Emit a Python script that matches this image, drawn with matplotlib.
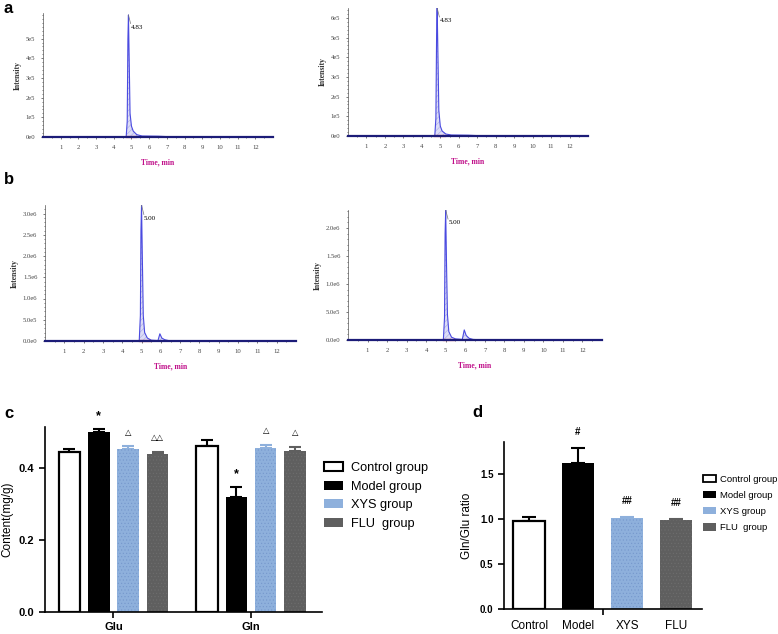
import matplotlib.pyplot as plt
import numpy as np
from matplotlib.patches import Patch

plt.rcParams['font.family'] = ['Liberation Sans', 'DejaVu Sans']
plt.rcParams['hatch.linewidth'] = 0.4

W, H = 778, 634

# chromatogram traces (time in min, intensity)
a1_time = [0, 4.70, 4.76, 4.80, 4.83, 4.87, 4.92, 5.00, 5.10, 5.30, 5.60, 6.50, 7.00, 8.00, 13.0]
a1_int = [0, 0, 0.8e5, 5.0e5, 6.2e5, 4.0e5, 1.2e5, 0.55e5, 0.3e5, 0.12e5, 0.05e5, 0.04e5, 0.02e5, 0, 0]
a2_time = [0, 4.70, 4.76, 4.80, 4.83, 4.87, 4.92, 5.00, 5.10, 5.30, 5.60, 6.50, 7.00, 8.00, 13.0]
a2_int = [0, 0, 0.9e5, 5.2e5, 6.5e5, 4.2e5, 1.3e5, 0.5e5, 0.25e5, 0.1e5, 0.05e5, 0.04e5, 0.02e5, 0, 0]
b1_time = [0, 4.88, 4.94, 4.97, 5.00, 5.04, 5.09, 5.16, 5.30, 5.50, 5.85, 5.95, 6.05, 6.20, 6.40, 7.00, 13.0]
b1_int = [0, 0, 0.6e6, 2.6e6, 3.2e6, 2.0e6, 0.6e6, 0.2e6, 0.07e6, 0.02e6, 0.01e6, 0.17e6, 0.07e6, 0.03e6, 0.01e6, 0, 0]
b2_time = [0, 4.88, 4.94, 4.97, 5.00, 5.04, 5.09, 5.16, 5.30, 5.50, 5.85, 5.95, 6.05, 6.20, 6.40, 7.00, 13.0]
b2_int = [0, 0, 0.4e6, 1.9e6, 2.32e6, 1.4e6, 0.45e6, 0.15e6, 0.05e6, 0.02e6, 0.01e6, 0.18e6, 0.08e6, 0.03e6, 0.01e6, 0, 0]
a1_peak = (4.83, 6.2e5, '4.83')
a2_peak = (4.83, 6.5e5, '4.83')
b1_peak = (5.00, 3.2e6, '5.00')
b2_peak = (5.00, 2.32e6, '5.00')
a_yticks = [0, 1e5, 2e5, 3e5, 4e5, 5e5, 6e5]
a_ylabels = ['0e0', '1e5', '2e5', '3e5', '4e5', '5e5', '6e5']
b_yticks = [0, 5e5, 1e6, 1.5e6, 2e6, 2.5e6, 3e6]
b_ylabels = ['0.0e0', '5.0e5', '1.0e6', '1.5e6', '2.0e6', '2.5e6', '3.0e6']
time_ticks = list(range(1, 13))

# panel c
c_groups = ['Glu', 'Gln']
c_series = ['Control group', 'Model group', 'XYS group', 'FLU  group']
control_c = [0.444, 0.461]
control_c_err = [0.009, 0.017]
model_c = [0.500, 0.319]
model_c_err = [0.008, 0.028]
xys_c = [0.453, 0.456]
xys_c_err = [0.007, 0.008]
flu_c = [0.439, 0.447]
flu_c_err = [0.005, 0.011]
c_marks = [['', '*', '\u25b3', '\u25b3\u25b3'], ['', '*', '\u25b3', '\u25b3']]

# panel d
d_labels = ['Control', 'Model', 'XYS', 'FLU']
d_ratio = [0.978, 1.62, 1.01, 0.985]
d_err = [0.04, 0.17, 0.01, 0.015]
d_marks = ['', '#', '##', '##']

face = ['white', 'black', '#8eb0dc', '#5f5f5f']
edge = ['black', 'black', '#8eb0dc', '#5f5f5f']
hatch_col = [None, None, '#7597cc', '#6e6e6e']
err_col = ['black', 'black', '#8eb0dc', '#5f5f5f']


def px_box(x0, y0, x1, y1):
    return [x0 / W, 1 - y1 / H, (x1 - x0) / W, (y1 - y0) / H]


def chrom(ax, t, inten, peak, yticks, ylabels, ytop):
    ax.fill_between(t, inten, color='#dcdcf6', hatch='//////', edgecolor='#a8a8e6', linewidth=0)
    ax.plot(t, inten, color='#4a4ae0', lw=0.8)
    pt, pi, lab = peak
    ax.plot([pt, pt + 0.12], [pi, pi * 0.93], color='#777777', lw=0.5)
    ax.text(pt + 0.13, pi * 0.9, lab, fontsize=5, family='Liberation Serif', va='center', ha='left')
    ax.plot([pt - 0.1, pt + 0.45], [0, 0], color='#e03040', lw=1.6, clip_on=False, zorder=3)
    ax.axhline(0, color='#1c1c78', lw=1.6, clip_on=False, zorder=4)
    ax.set_xlim(0, 13)
    ax.set_ylim(0, ytop)
    ax.set_xticks(time_ticks)
    ax.set_xticks(np.arange(0.5, 13, 0.5), minor=True)
    ax.set_yticks(yticks)
    ax.set_yticklabels(ylabels)
    ax.set_yticks(np.arange(0, ytop, yticks[1] / 5), minor=True)
    ax.tick_params(which='both', length=1.5, width=0.5, labelsize=4.8, pad=4, colors='#444444')
    ax.tick_params(which='minor', length=1)
    for lb in ax.get_xticklabels() + ax.get_yticklabels():
        lb.set_family('Liberation Serif')
    for s in ['top', 'right']:
        ax.spines[s].set_visible(False)
    ax.spines['left'].set_linewidth(0.5)
    ax.spines['left'].set_color('#555555')
    ax.spines['bottom'].set_visible(False)
    ax.set_xlabel('Time, min', fontsize=5.5, color='#c0108a', family='Liberation Serif',
                  fontweight='bold', labelpad=6)
    ax.set_ylabel('Intensity', fontsize=5.5, family='Liberation Serif', fontweight='bold',
                  color='#333333', labelpad=3)


fig = plt.figure(figsize=(W / 100, H / 100), dpi=100)

ax_a1 = fig.add_axes(px_box(43, 13, 273, 137))
chrom(ax_a1, a1_time, a1_int, a1_peak, a_yticks[:6], a_ylabels[:6], 6.3e5)
ax_a2 = fig.add_axes(px_box(348, 8, 588, 136))
chrom(ax_a2, a2_time, a2_int, a2_peak, a_yticks, a_ylabels, 6.5e5)
ax_b1 = fig.add_axes(px_box(45, 205, 296, 341))
chrom(ax_b1, b1_time, b1_int, b1_peak, b_yticks, b_ylabels, 3.2e6)
ax_b2 = fig.add_axes(px_box(348, 210, 602, 340))
chrom(ax_b2, b2_time, b2_int, b2_peak, b_yticks[:5], b_ylabels[:5], 2.32e6)

for lab, x, y in [('a', 3, 1), ('b', 4, 172), ('c', 4, 406), ('d', 472, 405)]:
    fig.text(x / W, 1 - y / H, lab, fontsize=12, fontweight='bold', va='top', ha='left')

# panel c
ax_c = fig.add_axes(px_box(45, 427, 322, 612))
c_vals = [control_c, model_c, xys_c, flu_c]
c_errs = [control_c_err, model_c_err, xys_c_err, flu_c_err]
x_groups = np.arange(len(c_groups))
step, bw = 0.214, 0.156
for i in range(4):
    xs = x_groups + (i - 1.5) * step
    ax_c.bar(xs, c_vals[i], bw, color=face[i], edgecolor=edge[i] if i == 0 else hatch_col[i],
             linewidth=1.6 if i == 0 else 0, hatch='.....' if hatch_col[i] else None, zorder=2)
    ax_c.errorbar(xs, c_vals[i], yerr=[[0] * len(xs), c_errs[i]], fmt='none', ecolor=err_col[i],
                  elinewidth=1.5, capsize=4.2, capthick=1.5, zorder=1)
    for j in range(len(xs)):
        m = c_marks[j][i]
        if m:
            fs = 9 if m == '*' else 6
            ax_c.text(xs[j], c_vals[i][j] + c_errs[i][j] + 0.037, m, ha='center', va='center',
                      fontsize=fs, fontweight='bold', clip_on=False)
ax_c.set_xlim(-0.498, 1.516)
ax_c.set_ylim(0, 0.514)
ax_c.set_yticks([0, 0.2, 0.4])
ax_c.set_yticklabels(['0.0', '0.2', '0.4'], fontweight='bold')
ax_c.set_xticks(x_groups)
ax_c.set_xticklabels(c_groups, fontweight='bold')
ax_c.tick_params(labelsize=8, width=1.2, length=4)
ax_c.tick_params(axis='x', pad=3)
ax_c.set_ylabel('Content(mg/g)', fontsize=8.5, labelpad=4)
for s in ['top', 'right']:
    ax_c.spines[s].set_visible(False)
for s in ['left', 'bottom']:
    ax_c.spines[s].set_linewidth(1.2)

c_handles = [Patch(facecolor=face[i], edgecolor='black' if i == 0 else face[i],
                   linewidth=1.5 if i == 0 else 0) for i in range(4)]
fig.legend(c_handles, c_series, loc='upper left', bbox_to_anchor=(324 / W, 1 - 462 / H),
           frameon=False, fontsize=9.2, handlelength=1.5, handleheight=0.75, labelspacing=0.5,
           handletextpad=0.65, borderpad=0, borderaxespad=0)

# panel d
ax_d = fig.add_axes(px_box(504, 442, 702, 609))
xd = np.arange(len(d_labels))
for i in range(4):
    ax_d.bar(xd[i], d_ratio[i], 0.67, color=face[i], edgecolor=edge[i] if i == 0 else hatch_col[i],
             linewidth=1.6 if i == 0 else 0, hatch='.....' if hatch_col[i] else None, zorder=2)
    ax_d.errorbar(xd[i], d_ratio[i], yerr=[[0], [d_err[i]]], fmt='none', ecolor=err_col[i],
                  elinewidth=1.5, capsize=5, capthick=1.5, zorder=1)
    if d_marks[i]:
        ax_d.text(xd[i], d_ratio[i] + d_err[i] + 0.18, d_marks[i], ha='center', va='center',
                  fontsize=7, fontweight='bold', clip_on=False)
ax_d.set_xlim(-0.51, 3.53)
ax_d.set_ylim(0, 1.856)
ax_d.set_yticks([0, 0.5, 1.0, 1.5])
ax_d.set_yticklabels(['0.0', '0.5', '1.0', '1.5'], fontweight='bold')
ax_d.set_xticks([1.5])
ax_d.set_xticklabels([''])
for i, lab in enumerate(d_labels):
    ax_d.text(xd[i], -0.12, lab, ha='center', va='top', fontsize=8.5)
ax_d.tick_params(labelsize=7, width=1.2, length=4)
ax_d.set_ylabel('Gln/Glu ratio', fontsize=8.5, labelpad=5)
for s in ['top', 'right']:
    ax_d.spines[s].set_visible(False)
for s in ['left', 'bottom']:
    ax_d.spines[s].set_linewidth(1.2)

d_handles = [Patch(facecolor=face[i], edgecolor='black' if i == 0 else face[i],
                   linewidth=1.3 if i == 0 else 0) for i in range(4)]
fig.legend(d_handles, c_series, loc='upper left', bbox_to_anchor=(703 / W, 1 - 475 / H),
           frameon=False, fontsize=6.8, handlelength=1.4, handleheight=0.8, labelspacing=0.75,
           handletextpad=0.45, borderpad=0, borderaxespad=0)

fig.savefig('out.png', dpi=100)
